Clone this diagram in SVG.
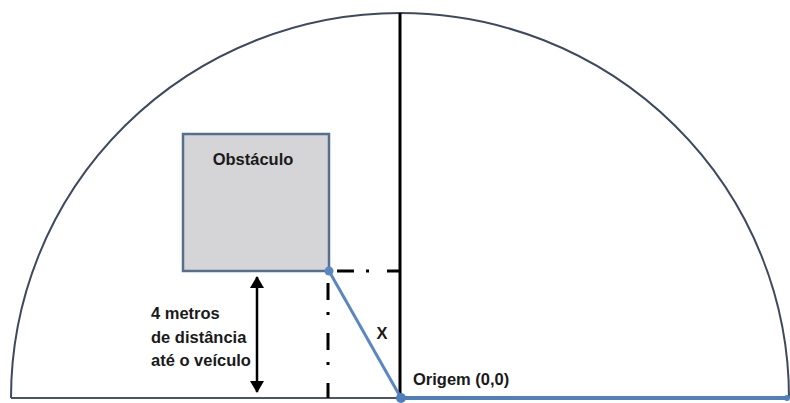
<svg xmlns="http://www.w3.org/2000/svg" width="790" height="403" viewBox="0 0 790 403">
<style>
.t{font-family:"Liberation Sans",Arial,sans-serif;font-weight:bold;fill:#1a1a1a;font-size:16.5px}
.dd{stroke:#000;stroke-width:3;stroke-dasharray:17 12 3 18;fill:none}
</style>
<defs>
<marker id="ah" viewBox="0 0 12 14" refX="11" refY="7" markerWidth="12" markerHeight="14" markerUnits="userSpaceOnUse" orient="auto-start-reverse">
<path d="M0,0 L12,7 L0,14 Z" fill="#000"/>
</marker>
</defs>
<rect width="790" height="403" fill="#fff"/>
<g id="arc">
<path d="M11,398 A389,385 0 0 1 789,398" fill="none" stroke="#3d4a5e" stroke-width="2"/>
</g>
<g id="obstaculo">
<rect x="183" y="134" width="146" height="137" fill="#d5d5d7" stroke="#566f8e" stroke-width="2.5"/>
<text class="t" x="253" y="165" text-anchor="middle" font-size="17">Obstáculo</text>
</g>
<g id="connectors">
<line x1="11" y1="398" x2="400" y2="398" stroke="#4a5668" stroke-width="2"/>
<line x1="400" y1="398" x2="788" y2="398" stroke="#4f7fbd" stroke-width="4"/>
<line x1="400" y1="13" x2="400" y2="398" stroke="#000" stroke-width="3"/>
<line class="dd" x1="337" y1="271" x2="400" y2="271"/>
<line class="dd" x1="328" y1="283" x2="328" y2="398"/>
<line x1="329" y1="271" x2="401" y2="398" stroke="#5a87c0" stroke-width="3"/>
<circle cx="329" cy="271" r="4.5" fill="#5a87c0"/>
<circle cx="401" cy="398" r="5" fill="#4f7fbd"/>
<circle cx="787" cy="398" r="3" fill="#4f7fbd"/>
<line x1="257" y1="277" x2="257" y2="392" stroke="#000" stroke-width="2.5" marker-start="url(#ah)" marker-end="url(#ah)"/>
</g>
<g id="labels">
<text class="t" x="151" y="319">4 metros</text>
<text class="t" x="151" y="343">de distância</text>
<text class="t" x="151" y="366">até o veículo</text>
<text class="t" x="382" y="339" text-anchor="middle" font-size="17">X</text>
<text class="t" x="413" y="385" font-size="17">Origem (0,0)</text>
</g>
</svg>
